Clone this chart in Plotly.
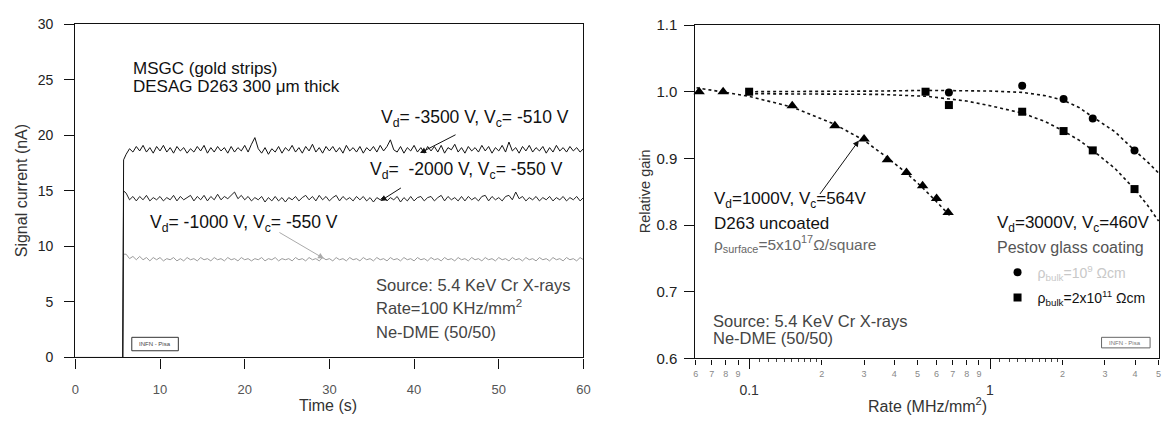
import plotly.graph_objects as go

W, H = 1166, 425
FONT = "Liberation Sans, Arial, sans-serif"

# ---------------- Left panel data: signal current vs time ----------------
T_STEP = [0.0, 5.6, 5.7]            # baseline then step
A_STEP = [0.0, 0.0, 17.8]
B_STEP = [0.0, 0.0, 15.0]
C_STEP = [0.0, 0.0, 9.3]
TIME = [round(6.0 + 0.4 * i, 1) for i in range(136)]   # sampling grid 6.0 ... 60.0 s

CUR_3500 = [
    18.3, 18.8, 18.5, 19.0, 18.6, 19.1, 18.5, 18.9, 18.4, 19.0,
    18.6, 19.1, 18.5, 18.9, 18.4, 19.0, 18.6, 18.9, 18.4, 18.8,
    18.5, 19.0, 18.6, 19.1, 18.4, 18.9, 18.5, 19.0, 18.6, 18.9,
    18.4, 19.0, 18.5, 18.9, 18.6, 19.1, 18.5, 19.2, 19.8, 18.8,
    18.4, 18.9, 18.3, 18.8, 18.5, 19.0, 18.4, 18.9, 18.6, 19.1,
    18.5, 18.9, 18.4, 19.0, 18.6, 19.2, 18.5, 18.9, 18.4, 19.0,
    18.6, 19.0, 18.5, 18.9, 18.4, 19.1, 18.6, 18.9, 18.5, 19.0,
    18.4, 18.9, 18.6, 19.0, 18.5, 19.1, 18.6, 19.0, 19.6, 18.7,
    18.5, 19.0, 18.4, 18.9, 18.6, 19.1, 18.5, 18.9, 18.4, 19.0,
    18.6, 19.0, 18.5, 19.1, 18.4, 18.9, 18.7, 19.2, 18.5, 18.9,
    18.4, 19.0, 18.6, 18.9, 18.5, 19.1, 18.6, 19.0, 18.4, 18.9,
    18.6, 19.1, 18.5, 19.4, 18.6, 18.9, 18.4, 19.0, 18.6, 19.1,
    18.5, 18.9, 18.6, 19.0, 18.4, 18.9, 18.5, 19.1, 18.6, 18.9,
    18.5, 19.0, 18.6, 18.9, 18.5, 18.8]

CUR_2000 = [
    14.8, 14.2, 14.5, 14.1, 14.5, 14.2, 14.6, 14.1, 14.4, 14.2,
    14.5, 14.1, 14.4, 14.2, 14.6, 14.1, 14.5, 14.2, 14.4, 14.6,
    14.1, 14.5, 14.2, 14.6, 14.1, 14.5, 14.2, 14.7, 14.2, 14.5,
    14.3, 14.6, 14.9, 14.3, 14.6, 14.2, 14.5, 14.1, 14.4, 14.2,
    14.5, 14.0, 14.4, 14.1, 14.5, 14.1, 14.4, 14.0, 14.4, 14.2,
    14.5, 14.1, 14.4, 14.6, 14.2, 14.5, 14.1, 14.6, 14.2, 14.5,
    14.1, 14.4, 14.6, 14.1, 14.5, 14.2, 14.4, 14.1, 14.5, 14.2,
    14.5, 14.1, 14.4, 14.0, 14.4, 14.2, 14.5, 14.1, 14.4, 14.2,
    14.5, 14.0, 14.4, 14.1, 14.5, 14.1, 14.4, 14.5, 14.1, 14.4,
    14.5, 14.1, 14.4, 14.6, 14.1, 14.5, 14.2, 14.4, 14.1, 14.5,
    14.1, 14.5, 14.2, 14.4, 14.1, 14.5, 14.6, 14.1, 14.5, 14.2,
    14.4, 14.1, 14.5, 14.6, 14.2, 14.9, 14.3, 14.5, 14.1, 14.4,
    14.2, 14.5, 14.1, 14.4, 14.2, 14.5, 14.1, 14.4, 14.2, 14.5,
    14.1, 14.4, 14.2, 14.5, 14.1, 14.4]

CUR_1000 = [
    9.3, 8.9, 9.1, 8.8, 9.1, 8.8, 9.0, 8.7, 9.0, 8.8,
    9.0, 8.7, 8.9, 8.8, 9.0, 8.7, 8.9, 8.7, 9.0, 8.8,
    8.9, 8.7, 9.0, 8.8, 8.9, 8.7, 9.0, 8.8, 8.9, 8.7,
    9.0, 8.8, 8.9, 8.7, 9.0, 8.8, 8.9, 8.7, 8.9, 8.8,
    9.0, 8.7, 8.9, 8.8, 9.0, 8.7, 8.9, 8.8, 8.9, 8.7,
    9.0, 8.8, 8.9, 8.7, 9.0, 8.8, 8.9, 8.7, 9.0, 8.8,
    8.9, 8.7, 9.0, 8.8, 8.9, 8.7, 9.0, 8.8, 8.9, 8.7,
    9.0, 8.8, 8.9, 8.7, 9.0, 8.8, 8.9, 8.7, 9.0, 8.8,
    8.9, 8.7, 9.0, 8.8, 8.9, 8.7, 9.0, 8.8, 8.9, 8.7,
    9.0, 8.8, 8.9, 8.7, 9.0, 8.8, 8.9, 8.7, 9.0, 8.8,
    8.9, 8.7, 9.0, 8.8, 8.9, 8.7, 9.0, 8.8, 8.9, 8.7,
    9.0, 8.8, 8.9, 8.7, 9.0, 8.8, 8.9, 8.7, 9.0, 8.8,
    8.9, 8.7, 9.0, 8.8, 8.9, 8.7, 9.0, 8.8, 8.9, 8.7,
    9.0, 8.8, 8.9, 8.7, 9.0, 8.8]

# ---------------- Right panel data: relative gain vs rate ----------------
TRI_X = [0.062, 0.078, 0.151, 0.227, 0.30, 0.375, 0.45, 0.525, 0.60, 0.67]
TRI_Y = [1.0, 1.0, 0.979, 0.949, 0.929, 0.898, 0.879, 0.859, 0.84, 0.819]
SQ_X = [0.1, 0.54, 0.675, 1.36, 2.02, 2.67, 3.98]
SQ_Y = [1.0, 1.0, 0.98, 0.97, 0.941, 0.912, 0.854]
CIR_X = [0.675, 1.36, 2.02, 2.67, 3.98]
CIR_Y = [0.999, 1.009, 0.989, 0.96, 0.912]

FIT_TRI_X = [0.0605, 0.078, 0.1, 0.151, 0.227, 0.30, 0.375, 0.45, 0.525, 0.60, 0.69]
FIT_TRI_Y = [1.006, 1.0, 0.993, 0.977, 0.951, 0.927, 0.901, 0.878, 0.856, 0.835, 0.812]
FIT_CIR_X = [0.1, 0.2, 0.35, 0.55, 0.8, 1.0, 1.36, 1.7, 2.02, 2.35, 2.67, 3.3, 3.98, 4.5, 5.01]
FIT_CIR_Y = [1.0, 1.0, 1.001, 1.002, 1.002, 1.001, 0.999, 0.994, 0.987, 0.976, 0.962, 0.94, 0.912, 0.895, 0.878]
FIT_SQ_X = [0.1, 0.2, 0.35, 0.55, 0.8, 1.0, 1.36, 1.7, 2.02, 2.35, 2.67, 3.3, 3.98, 4.5, 5.01]
FIT_SQ_Y = [0.997, 0.997, 0.996, 0.993, 0.986, 0.979, 0.968, 0.955, 0.941, 0.927, 0.912, 0.885, 0.854, 0.83, 0.806]

RATE_MINOR_VALS = [0.06, 0.07, 0.08, 0.09, 0.2, 0.3, 0.4, 0.5, 0.6, 0.7, 0.8, 0.9, 2, 3, 4, 5]
RATE_MINOR_TEXT = ["6", "7", "8", "9", "2", "3", "4", "5", "6", "7", "8", "9", "2", "3", "4", "5"]
RATE_MAJOR_VALS = [0.1, 1]
RATE_MAJOR_TEXT = ["0.1", "1"]
RATE_TINY_VALS = [0.11, 0.12, 0.13, 0.14, 0.15, 0.16, 0.17, 0.18, 0.19,
                  1.1, 1.2, 1.3, 1.4, 1.5, 1.6, 1.7, 1.8, 1.9]
RATE_RANGE = [-1.2230, 0.7015]


def px(x):
    return x / W


def py(y):
    return 1 - y / H


fig = go.Figure()

# left traces
fig.add_trace(go.Scatter(x=T_STEP + TIME, y=C_STEP + CUR_1000, mode="lines",
                         line=dict(color="#9a9a9a", width=1), xaxis="x", yaxis="y", showlegend=False))
fig.add_trace(go.Scatter(x=T_STEP + TIME, y=B_STEP + CUR_2000, mode="lines",
                         line=dict(color="#222", width=1), xaxis="x", yaxis="y", showlegend=False))
fig.add_trace(go.Scatter(x=T_STEP + TIME, y=A_STEP + CUR_3500, mode="lines",
                         line=dict(color="#111", width=1), xaxis="x", yaxis="y", showlegend=False))

# right fits
for fx, fy in [(FIT_TRI_X, FIT_TRI_Y), (FIT_CIR_X, FIT_CIR_Y), (FIT_SQ_X, FIT_SQ_Y)]:
    fig.add_trace(go.Scatter(x=fx, y=fy, mode="lines", line=dict(color="#111", width=1.6, dash="dot"),
                             xaxis="x2", yaxis="y2", showlegend=False, cliponaxis=False))
# right markers
fig.add_trace(go.Scatter(x=TRI_X, y=TRI_Y, mode="markers", marker=dict(symbol="triangle-up", size=10, color="#000"),
                         xaxis="x2", yaxis="y2", showlegend=False, cliponaxis=False))
fig.add_trace(go.Scatter(x=CIR_X, y=CIR_Y, mode="markers", marker=dict(symbol="circle", size=8, color="#000"),
                         xaxis="x2", yaxis="y2", cliponaxis=False, legendgroup="a",
                         name="<span style='color:#c8c8c8'>ρ<sub>bulk</sub>=10<sup>9</sup> Ωcm</span>"))
fig.add_trace(go.Scatter(x=SQ_X, y=SQ_Y, mode="markers", marker=dict(symbol="square", size=8, color="#000"),
                         xaxis="x2", yaxis="y2", cliponaxis=False, legendgroup="b",
                         name="ρ<sub>bulk</sub>=2x10<sup>11</sup> Ωcm"))

axis_common = dict(showline=True, linecolor="#111", linewidth=1.2, ticks="outside", tickcolor="#111",
                   showgrid=False, zeroline=False)

fig.update_layout(
    width=W, height=H, margin=dict(l=0, r=0, t=0, b=0),
    paper_bgcolor="white", plot_bgcolor="white",
    font=dict(family=FONT, size=14, color="#111"),
    xaxis=dict(domain=[px(72), px(585)], range=[0, 60], tickvals=[0, 10, 20, 30, 40, 50, 60],
               ticklen=10, mirror=True, anchor="y",
               tickfont=dict(size=13, color="#555"), ticklabelstandoff=10, **axis_common),
    yaxis=dict(domain=[py(363), py(16)], range=[0, 30], tickvals=[0, 5, 10, 15, 20, 25, 30],
               ticklen=10, mirror=True, anchor="x",
               tickfont=dict(size=14, color="#222"), ticklabelstandoff=8, **axis_common),
    xaxis2=dict(domain=[px(698), 1.0], type="log", range=RATE_RANGE, anchor="y2",
                tickvals=RATE_MINOR_VALS, ticktext=RATE_MINOR_TEXT, ticklen=5, mirror=True,
                tickfont=dict(size=9, color="#888"), ticklabelstandoff=2, **axis_common),
    xaxis3=dict(domain=[px(698), 1.0], type="log", range=RATE_RANGE, anchor="y2", overlaying="x2",
                tickvals=RATE_MAJOR_VALS, ticktext=RATE_MAJOR_TEXT, ticks="outside", ticklen=10,
                tickcolor="#111", showline=False, showgrid=False, zeroline=False,
                tickfont=dict(size=14, color="#333"), ticklabelstandoff=9),
    xaxis4=dict(domain=[px(698), 1.0], type="log", range=RATE_RANGE, anchor="y2", overlaying="x2",
                tickvals=RATE_TINY_VALS, showticklabels=False, ticks="outside", ticklen=3,
                tickcolor="#444", showline=False, showgrid=False, zeroline=False),
    yaxis2=dict(domain=[py(364), py(16.7)], range=[0.6, 1.1], tickvals=[0.6, 0.7, 0.8, 0.9, 1.0, 1.1],
                tickformat=".1f", ticklen=10, mirror=True, anchor="x2",
                tickfont=dict(size=15, color="#222"), ticklabelstandoff=4, **axis_common),
    showlegend=True,
    legend=dict(x=px(1003), y=py(258), xanchor="left", yanchor="top", bgcolor="rgba(0,0,0,0)",
                font=dict(size=14, color="#111"), traceorder="grouped", tracegroupgap=4,
                itemwidth=30),
)

# dummy traces to activate overlay axes
fig.add_trace(go.Scatter(x=[0.1], y=[None], xaxis="x3", yaxis="y2", showlegend=False, hoverinfo="skip"))
fig.add_trace(go.Scatter(x=[0.1], y=[None], xaxis="x4", yaxis="y2", showlegend=False, hoverinfo="skip"))


def ann(text, x, y, size=17, color="#111", xanchor="left", angle=0):
    return dict(text=text, x=px(x), y=py(y), xref="paper", yref="paper", showarrow=False,
                xanchor=xanchor, yanchor="middle", textangle=angle,
                font=dict(family=FONT, size=size, color=color))


def arrow(tail, head, color="#111"):
    return dict(text="", x=px(head[0]), y=py(head[1]), xref="paper", yref="paper",
                ax=tail[0] - head[0], ay=tail[1] - head[1], showarrow=True,
                arrowhead=2, arrowsize=1.2, arrowwidth=1, arrowcolor=color)


annotations = [
    # left panel
    ann("MSGC (gold strips)", 128, 62),
    ann("DESAG D263 300 μm thick", 128, 81),
    ann("V<sub>d</sub>= -3500 V, V<sub>c</sub>= -510 V", 379, 114, size=17.5),
    ann("V<sub>d</sub>=  -2000 V, V<sub>c</sub>= -550 V", 367, 168, size=17.5),
    ann("V<sub>d</sub>= -1000 V, V<sub>c</sub>= -550 V", 145, 223, size=17.5),
    arrow((457, 131), (420, 150)),
    arrow((402, 186), (380, 200)),
    arrow((277, 233), (323, 260), color="#aaa"),
    ann("Source: 5.4 KeV Cr X-rays", 374, 287, size=16.5, color="#444"),
    ann("Rate=100 KHz/mm<sup>2</sup>", 374, 310, size=16.5, color="#444"),
    ann("Ne-DME (50/50)", 374, 336, size=16.5, color="#444"),
    ann("INFN - Pisa", 152.5, 349, size=6, color="#444", xanchor="center"),
    ann("Signal current (nA)", 18, 189, size=16, color="#333", xanchor="center", angle=-90),
    ann("Time (s)", 327, 413, size=16, color="#333", xanchor="center"),
    # right panel
    ann("V<sub>d</sub>=1000V, V<sub>c</sub>=564V", 715, 199),
    ann("D263 uncoated", 715, 223),
    ann("ρ<sub>surface</sub>=5x10<sup>17</sup>Ω/square", 715, 245, size=15.5, color="#666"),
    arrow((823, 192), (863, 137)),
    ann("Source: 5.4 KeV Cr X-rays", 714, 325, size=16.5, color="#444"),
    ann("Ne-DME (50/50)", 714, 343, size=16.5, color="#444"),
    ann("V<sub>d</sub>=3000V, V<sub>c</sub>=460V", 1000, 224),
    ann("Pestov glass coating", 1000, 248, size=16, color="#555"),
    ann("INFN - Pisa", 1132, 347.5, size=6, color="#777", xanchor="center"),
    ann("Relative gain", 648, 190, size=14.5, color="#333", xanchor="center", angle=-90),
    ann("Rate (MHz/mm<sup>2</sup>)", 932, 413, size=16, color="#333", xanchor="center"),
]
fig.update_layout(annotations=annotations)

fig.update_layout(shapes=[
    dict(type="rect", xref="paper", yref="paper", x0=px(129), x1=px(176), y0=py(356), y1=py(342),
         line=dict(color="#333", width=1)),
    dict(type="rect", xref="paper", yref="paper", x0=px(1108), x1=px(1157), y0=py(353), y1=py(342),
         line=dict(color="#666", width=1)),
])

fig.write_html("out.html")
